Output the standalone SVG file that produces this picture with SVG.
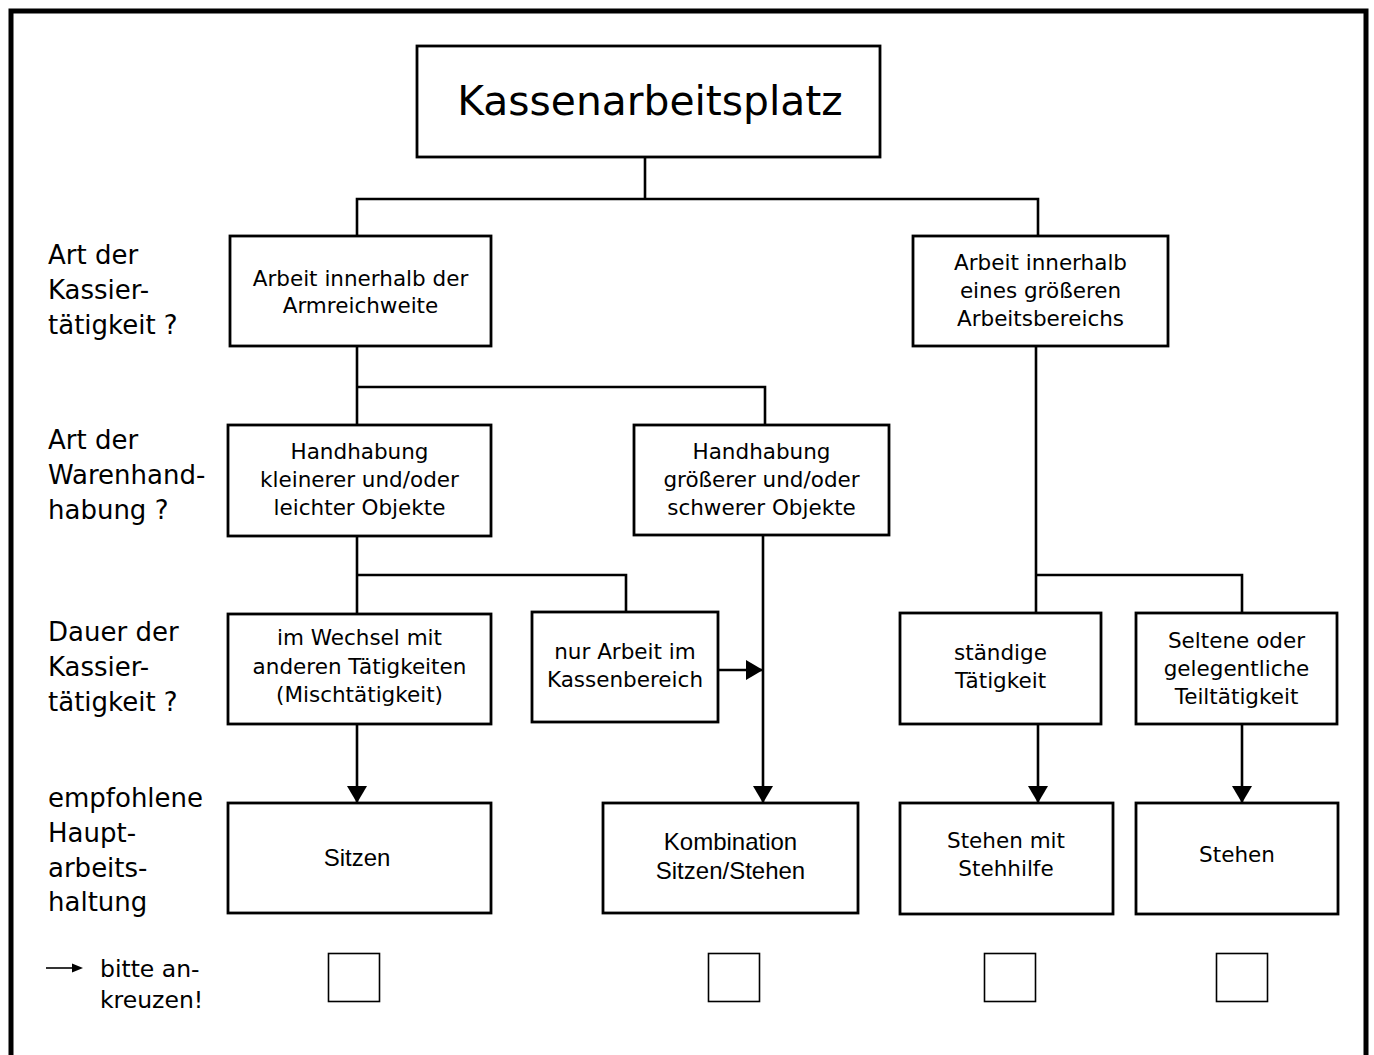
<svg xmlns="http://www.w3.org/2000/svg" width="1374" height="1055" viewBox="0 0 1374 1055">
<style>
text{font-family:"DejaVu Sans","Liberation Sans",sans-serif;fill:#000}
.lbl{font-size:26px}
.bx{font-size:21.5px;text-anchor:middle}
.cond{font-family:"Liberation Sans",Arial,sans-serif;font-size:24px;text-anchor:middle}
.node rect{fill:#fff;stroke:#000;stroke-width:2.8}
.chk{fill:#fff;stroke:#000;stroke-width:1.6}
.conn path{fill:none;stroke:#000;stroke-width:2.6}
</style>
<defs>
<marker id="ah" markerUnits="userSpaceOnUse" markerWidth="18" markerHeight="20" refX="17" refY="10" orient="auto" viewBox="0 0 18 20">
<path d="M0,0 L17,10 L0,20 Z" fill="#000"/>
</marker>
</defs>
<rect width="1374" height="1055" fill="#fff"/>
<path d="M11,1060 V11 H1366 V1060" fill="none" stroke="#000" stroke-width="5"/>

<g id="labels" class="lbl">
<text x="48" y="264">Art der</text>
<text x="48" y="299">Kassier-</text>
<text x="48" y="334">tätigkeit ?</text>
<text x="48" y="449">Art der</text>
<text x="48" y="484">Warenhand-</text>
<text x="48" y="519">habung ?</text>
<text x="48" y="641">Dauer der</text>
<text x="48" y="676">Kassier-</text>
<text x="48" y="711">tätigkeit ?</text>
<text x="48" y="807">empfohlene</text>
<text x="48" y="842">Haupt-</text>
<text x="48" y="877">arbeits-</text>
<text x="48" y="911">haltung</text>
<text x="100" y="977" style="font-size:23.5px">bitte an-</text>
<text x="100" y="1008" style="font-size:23.5px">kreuzen!</text>
</g>
<g id="legend-arrow">
<line x1="46" y1="968" x2="75" y2="968" stroke="#000" stroke-width="1.6"/>
<polygon points="72,963.5 83,968 72,972.5" fill="#000"/>
</g>

<g id="connectors" class="conn">
<path d="M645,157 V199"/>
<path d="M357,236 V199 H1038 V236"/>
<path d="M357,346 V425"/>
<path d="M357,387 H765 V425"/>
<path d="M357,536 V614"/>
<path d="M357,575 H626 V612"/>
<path d="M763,535 V803" marker-end="url(#ah)"/>
<path d="M718,670 H763" marker-end="url(#ah)"/>
<path d="M357,724 V803" marker-end="url(#ah)"/>
<path d="M1036,346 V613"/>
<path d="M1036,575 H1242 V613"/>
<path d="M1038,724 V803" marker-end="url(#ah)"/>
<path d="M1242,724 V803" marker-end="url(#ah)"/>
</g>

<g id="n-title" class="node"><rect x="417" y="46" width="463" height="111"/>
<text x="650" y="115" style="font-size:40.8px;text-anchor:middle">Kassenarbeitsplatz</text></g>

<g id="n-armreich" class="node"><rect x="230" y="236" width="261" height="110"/>
<text class="bx" x="360.5" y="286">Arbeit innerhalb der</text>
<text class="bx" x="360.5" y="313">Armreichweite</text></g>

<g id="n-groesser" class="node"><rect x="913" y="236" width="255" height="110"/>
<text class="bx" x="1040.5" y="270">Arbeit innerhalb</text>
<text class="bx" x="1040.5" y="298">eines größeren</text>
<text class="bx" x="1040.5" y="326">Arbeitsbereichs</text></g>

<g id="n-klein" class="node"><rect x="228" y="425" width="263" height="111"/>
<text class="bx" x="359.5" y="459">Handhabung</text>
<text class="bx" x="359.5" y="487">kleinerer und/oder</text>
<text class="bx" x="359.5" y="515">leichter Objekte</text></g>

<g id="n-gross" class="node"><rect x="634" y="425" width="255" height="110"/>
<text class="bx" x="761.5" y="459">Handhabung</text>
<text class="bx" x="761.5" y="487">größerer und/oder</text>
<text class="bx" x="761.5" y="515">schwerer Objekte</text></g>

<g id="n-wechsel" class="node"><rect x="228" y="614" width="263" height="110"/>
<text class="bx" x="359.5" y="645">im Wechsel mit</text>
<text class="bx" x="359.5" y="674">anderen Tätigkeiten</text>
<text class="bx" x="359.5" y="702">(Mischtätigkeit)</text></g>

<g id="n-nurkasse" class="node"><rect x="532" y="612" width="186" height="110"/>
<text class="bx" x="625" y="659">nur Arbeit im</text>
<text class="bx" x="625" y="687">Kassenbereich</text></g>

<g id="n-staendig" class="node"><rect x="900" y="613" width="201" height="111"/>
<text class="bx" x="1000.5" y="660">ständige</text>
<text class="bx" x="1000.5" y="688">Tätigkeit</text></g>

<g id="n-selten" class="node"><rect x="1136" y="613" width="201" height="111"/>
<text class="bx" x="1236.5" y="648">Seltene oder</text>
<text class="bx" x="1236.5" y="676">gelegentliche</text>
<text class="bx" x="1236.5" y="704">Teiltätigkeit</text></g>

<g id="n-sitzen" class="node"><rect x="228" y="803" width="263" height="110"/>
<text class="cond" x="357" y="866">Sitzen</text></g>

<g id="n-kombi" class="node"><rect x="603" y="803" width="255" height="110"/>
<text class="cond" x="730.5" y="850">Kombination</text>
<text class="cond" x="730.5" y="879">Sitzen/Stehen</text></g>

<g id="n-stehhilfe" class="node"><rect x="900" y="803" width="213" height="111"/>
<text class="bx" x="1006" y="848">Stehen mit</text>
<text class="bx" x="1006" y="876">Stehhilfe</text></g>

<g id="n-stehen" class="node"><rect x="1136" y="803" width="202" height="111"/>
<text class="bx" x="1237" y="862">Stehen</text></g>

<g id="checkboxes">
<rect class="chk" x="328.5" y="953.5" width="51" height="48"/>
<rect class="chk" x="708.5" y="953.5" width="51" height="48"/>
<rect class="chk" x="984.5" y="953.5" width="51" height="48"/>
<rect class="chk" x="1216.5" y="953.5" width="51" height="48"/>
</g>
</svg>
